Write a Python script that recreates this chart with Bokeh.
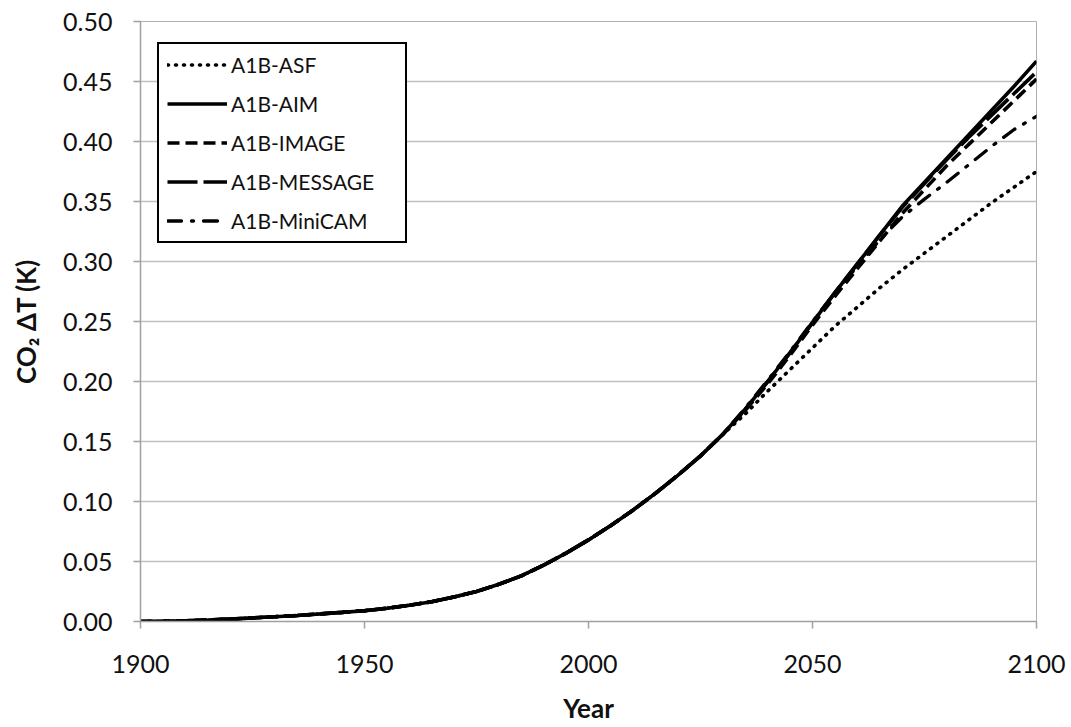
from bokeh.plotting import figure
from bokeh.models import Range1d, FixedTicker, Legend, LegendItem, NumeralTickFormatter
from bokeh.embed import file_html
from bokeh.resources import INLINE

# Shared historical part (all scenarios coincide)
hist_years = [1900, 1905, 1910, 1915, 1920, 1925, 1930, 1935, 1940, 1945, 1950, 1955,
              1960, 1965, 1970, 1975, 1980, 1985, 1990, 1995, 2000, 2005, 2010, 2015,
              2020, 2025, 2030]
hist_values = [0.000, 0.0002, 0.0006, 0.0012, 0.002, 0.003, 0.004, 0.005, 0.0063, 0.0076,
               0.009, 0.011, 0.0135, 0.0165, 0.0205, 0.025, 0.031, 0.038, 0.047, 0.057,
               0.068, 0.080, 0.093, 0.107, 0.122, 0.138, 0.156]

fut_years = [2035, 2040, 2045, 2050, 2055, 2060, 2065, 2070, 2075, 2080, 2085, 2090, 2095, 2100]
asf_fut = [0.173, 0.192, 0.210, 0.228, 0.246, 0.262, 0.278, 0.293, 0.307, 0.321, 0.335, 0.349, 0.362, 0.375]
aim_fut = [0.177, 0.200, 0.224, 0.249, 0.274, 0.298, 0.322, 0.346, 0.366, 0.386, 0.406, 0.426, 0.446, 0.467]
image_fut = [0.176, 0.198, 0.222, 0.247, 0.271, 0.294, 0.317, 0.340, 0.360, 0.380, 0.398, 0.416, 0.434, 0.452]
message_fut = [0.177, 0.200, 0.224, 0.249, 0.274, 0.298, 0.322, 0.345, 0.365, 0.385, 0.404, 0.422, 0.440, 0.458]
minicam_fut = [0.178, 0.201, 0.225, 0.250, 0.274, 0.296, 0.318, 0.337, 0.352, 0.366, 0.381, 0.396, 0.410, 0.421]

series_names = ["A1B-ASF", "A1B-AIM", "A1B-IMAGE", "A1B-MESSAGE", "A1B-MiniCAM"]
x_ticks = [1900, 1950, 2000, 2050, 2100]
y_ticks = [0.0, 0.05, 0.10, 0.15, 0.20, 0.25, 0.30, 0.35, 0.40, 0.45, 0.50]

FONT = "Lato"

p = figure(width=1071, height=727, output_backend="svg", toolbar_location=None,
           x_range=Range1d(1900, 2100), y_range=Range1d(0, 0.5),
           min_border_left=140, min_border_right=35, min_border_top=21, min_border_bottom=106)
p.outline_line_color = "#b0b0b0"
p.outline_line_width = 1
p.background_fill_color = "white"
p.border_fill_color = "white"

p.xgrid.grid_line_color = None
p.ygrid.grid_line_color = "#c0c0c0"
p.ygrid.grid_line_width = 1.5
p.xaxis.ticker = FixedTicker(ticks=x_ticks)
p.yaxis.ticker = FixedTicker(ticks=y_ticks)
p.yaxis.formatter = NumeralTickFormatter(format="0.00")

for ax in (p.xaxis[0], p.yaxis[0]):
    ax.axis_line_color = "#a0a0a0"
    ax.axis_line_width = 1.5
    ax.major_tick_line_color = "#a0a0a0"
    ax.major_tick_line_width = 1.5
    ax.major_tick_out = 7
    ax.major_tick_in = 0
    ax.minor_tick_line_color = None
    ax.major_label_text_font = FONT
    ax.major_label_text_font_size = "25px"
    ax.major_label_text_color = "#111111"
    ax.axis_label_text_font = FONT
    ax.axis_label_text_font_style = "bold"
    ax.axis_label_text_font_size = "26px"
    ax.axis_label_text_color = "#111111"

p.xaxis.major_label_standoff = 26
p.xaxis.axis_label = "Year"
p.xaxis.axis_label_standoff = 16
p.yaxis.major_label_standoff = 21
p.yaxis.axis_label = "CO\u2082 \u0394T (K)"
p.yaxis.axis_label_standoff = 18

def full(fut):
    return hist_years + fut_years, hist_values + fut

styles = [
    dict(line_dash="1 7", line_cap="round", line_width=3.6),
    dict(line_dash="solid", line_width=3.6),
    dict(line_dash="12 6", line_width=3.6),
    dict(line_dash="30 6", line_width=3.6),
    dict(line_dash="14 10 2 10", line_cap="round", line_width=3.3),
]
futs = [asf_fut, aim_fut, image_fut, message_fut, minicam_fut]

items = []
for name, fut, st in zip(series_names, futs, styles):
    xs, ys = full(fut)
    r = p.line(xs, ys, line_color="black", **st)
    items.append(LegendItem(label=name, renderers=[r]))

legend = Legend(items=items, location=(17, 378))
legend.border_line_color = "black"
legend.border_line_alpha = 1.0
legend.border_line_width = 2
legend.background_fill_color = "white"
legend.background_fill_alpha = 1
legend.label_text_font = FONT
legend.label_text_font_size = "21px"
legend.label_text_color = "#111111"
legend.glyph_width = 60
legend.glyph_height = 25
legend.label_height = 25
legend.label_width = 166
legend.spacing = 14
legend.padding = 8
legend.margin = 0
legend.label_standoff = 4
p.add_layout(legend, "center")

open("out.html", "w").write(file_html(p, INLINE))
